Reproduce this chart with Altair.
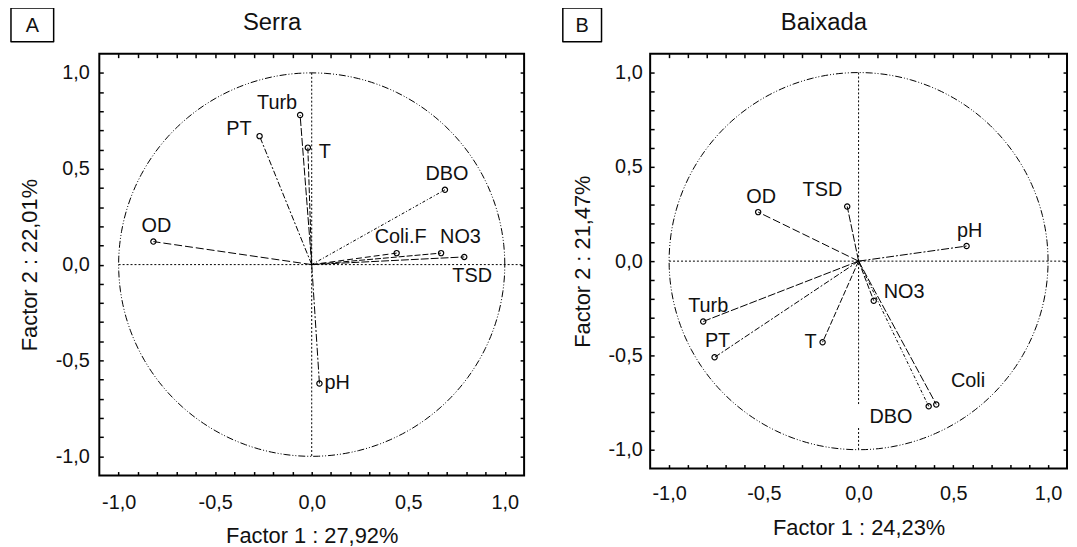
import altair as alt
import pandas as pd

# ---------------- data ----------------
serra_vars = ["Turb", "PT", "T", "DBO", "OD", "Coli.F", "NO3", "TSD", "pH"]
serra_f1 = [-0.06, -0.27, -0.02, 0.69, -0.82, 0.44, 0.67, 0.79, 0.04]
serra_f2 = [0.78, 0.67, 0.61, 0.39, 0.12, 0.06, 0.06, 0.04, -0.62]

baixada_vars = ["OD", "TSD", "pH", "NO3", "Turb", "PT", "T", "DBO", "Coli"]
baixada_f1 = [-0.53, -0.06, 0.57, 0.08, -0.82, -0.76, -0.19, 0.37, 0.41]
baixada_f2 = [0.26, 0.29, 0.08, -0.21, -0.32, -0.51, -0.43, -0.77, -0.76]

# reference guide segments (in factor units)
serra_gx = [0.0, -1.0]
serra_gy = [1.0, 0.0]
serra_gx2 = [0.0, 1.1]
serra_gy2 = [-1.0, 0.0]

baixada_gx = [0.0, 0.0, -1.0]
baixada_gy = [1.0, -0.885, 0.0]
baixada_gx2 = [0.0, 0.0, 1.1]
baixada_gy2 = [-0.76, -1.0, 0.0]

tick_values = [round(-1.0 + 0.1 * i, 1) for i in range(21)]

# ---------------- styles ----------------
FONT = "Liberation Sans"
TXT = "#111111"

serra_label_style = {
    "Turb": ("right", -3, -12),
    "PT": ("right", -8, -7),
    "T": ("left", 11, 4),
    "DBO": ("center", 2, -16),
    "OD": ("center", 3, -16),
    "Coli.F": ("center", 4, -16),
    "NO3": ("left", -1, -16),
    "TSD": ("center", 8, 19),
    "pH": ("left", 5, 0),
}
baixada_label_style = {
    "OD": ("center", 3, -15),
    "TSD": ("right", -5, -17),
    "pH": ("center", 3, -15),
    "NO3": ("left", 10, -9),
    "Turb": ("center", 5, -16),
    "PT": ("center", 3, -16),
    "T": ("right", -6, 0),
    "DBO": ("center", -38, 11),
    "Coli": ("center", 32, -24),
}
serra_dash = {"Turb": [8, 2], "PT": [6, 2, 2, 2], "T": [6, 2], "DBO": [3, 2, 1, 2],
              "OD": [8, 3], "Coli.F": [6, 3], "NO3": [6, 2], "TSD": [8, 2], "pH": [8, 2, 2, 2]}
baixada_dash = {"OD": [3, 2, 1, 2], "TSD": [4, 3], "pH": [6, 3], "NO3": [6, 2],
                "Turb": [3, 2, 1, 2], "PT": [3, 3], "T": [6, 2], "DBO": [10, 2], "Coli": [10, 2]}

LABEL_EXPR = ("abs(datum.value*2 - round(datum.value*2)) < 0.001 ? "
              "(datum.value < 0 ? '-' : '') + replace(format(abs(datum.value), '.1f'), '.', ',') : ''")


def axis_main(orient, title, label_pad, title_pad):
    return alt.Axis(orient=orient, values=tick_values, labelExpr=LABEL_EXPR,
                    tickSize=4, offset=-4, domain=False, grid=False,
                    tickColor="black", tickWidth=1.5,
                    labelFont=FONT, labelFontSize=20, labelColor=TXT,
                    labelPadding=label_pad, labelOverlap=False, labelFlush=False,
                    title=title, titleFont=FONT, titleFontSize=22,
                    titleFontWeight="normal", titleColor=TXT, titlePadding=title_pad)


def axis_plain(orient):
    return alt.Axis(orient=orient, values=tick_values, labels=False,
                    tickSize=4, offset=-4, domain=False, grid=False,
                    tickColor="black", tickWidth=1.5, title=None)


def panel(name, letter, vars_, f1, f2, gx, gy, gx2, gy2, xtitle, ytitle,
          label_style, dashes, width, height, xlab_pad, ylab_pad, xt_pad, yt_pad,
          box, title_pos):
    sc = alt.Scale(domain=[-1.1, 1.1], nice=False, zero=False)
    df = pd.DataFrame({"var": vars_, "f1": f1, "f2": f2})
    df["o1"] = 0.0
    df["o2"] = 0.0
    gdf = pd.DataFrame({"x": gx, "y": gy, "x2": gx2, "y2": gy2})

    circle = alt.Chart(alt.sequence(0, 362, 2, as_="a")).transform_calculate(
        cx="cos(datum.a*PI/180)", cy="sin(datum.a*PI/180)"
    ).mark_line(color="black", strokeWidth=1, strokeDash=[7, 2, 1, 2, 1, 2]).encode(
        x=alt.X("cx:Q", scale=sc, axis=axis_main("bottom", xtitle, xlab_pad, xt_pad)),
        y=alt.Y("cy:Q", scale=sc, axis=axis_main("left", ytitle, ylab_pad, yt_pad)),
        order=alt.Order("a:Q"),
    )

    guides = alt.Chart(gdf).mark_rule(color="black", strokeWidth=1, strokeDash=[2, 2]).encode(
        x=alt.X("x:Q", scale=sc, axis=axis_plain("top")),
        y=alt.Y("y:Q", scale=sc, axis=axis_plain("right")),
        x2="x2:Q", y2="y2:Q",
    )

    vectors = alt.Chart(df).mark_rule(color="black", strokeWidth=1).encode(
        x=alt.X("o1:Q", scale=sc, axis=None),
        y=alt.Y("o2:Q", scale=sc, axis=None),
        x2="f1:Q", y2="f2:Q",
        strokeDash=alt.StrokeDash("var:N", scale=alt.Scale(domain=vars_, range=[dashes[v] for v in vars_]),
                                  legend=None),
    )

    points = alt.Chart(df).mark_point(shape="circle", filled=False, size=28, color="black",
                                      strokeWidth=1.2, opacity=1).encode(
        x=alt.X("f1:Q", scale=sc, axis=None),
        y=alt.Y("f2:Q", scale=sc, axis=None),
    )

    labels = []
    for v in vars_:
        al, dx, dy = label_style[v]
        labels.append(
            alt.Chart(df).transform_filter(alt.datum.var == v).mark_text(
                align=al, baseline="middle", dx=dx, dy=dy, font=FONT, fontSize=20, color=TXT
            ).encode(
                x=alt.X("f1:Q", scale=sc, axis=None),
                y=alt.Y("f2:Q", scale=sc, axis=None),
                text="var:N",
            )
        )

    ldf = pd.DataFrame({"t": [letter], "name": [name]})
    bx0, bx1, by0, by1 = box
    boxmark = alt.Chart(ldf).mark_rect(fillOpacity=0, stroke="black", strokeWidth=1.5,
                                       strokeJoin="round").encode(
        x=alt.value(bx0), x2=alt.value(bx1), y=alt.value(by0), y2=alt.value(by1)
    )
    boxtext = alt.Chart(ldf).mark_text(font=FONT, fontSize=20, color=TXT, align="center",
                                       baseline="middle").encode(
        x=alt.value((bx0 + bx1) / 2), y=alt.value((by0 + by1) / 2 + 1), text="t:N"
    )
    tx, ty = title_pos
    titletext = alt.Chart(ldf).mark_text(font=FONT, fontSize=24, color=TXT, align="center",
                                         baseline="middle").encode(
        x=alt.value(tx), y=alt.value(ty), text="name:N"
    )

    return alt.layer(circle, guides, vectors, points, *labels, boxmark, boxtext, titletext).resolve_axis(
        x="independent", y="independent"
    ).properties(width=width, height=height)


left = panel("Serra", "A", serra_vars, serra_f1, serra_f2,
             serra_gx, serra_gy, serra_gx2, serra_gy2,
             "Factor 1 : 27,92%", "Factor 2 : 22,01%",
             serra_label_style, serra_dash, 428, 425, 17, 10, 13, 14,
             (-89, -46, -46, -12), (174, -31))

right = panel("Baixada", "B", baixada_vars, baixada_f1, baixada_f2,
              baixada_gx, baixada_gy, baixada_gx2, baixada_gy2,
              "Factor 1 : 24,23%", "Factor 2 : 21,47%",
              baixada_label_style, baixada_dash, 420, 418, 15, 8, 14, 14,
              (-88, -49, -46, -12), (175, -31))

chart = alt.hconcat(left, right, spacing=35).configure_view(
    stroke="black", strokeWidth=2
).properties(
    padding={"left": 1, "top": -4, "right": 0, "bottom": 0},
    background="white",
)

chart.save("out.html", embed_options={"renderer": "svg", "actions": False})
